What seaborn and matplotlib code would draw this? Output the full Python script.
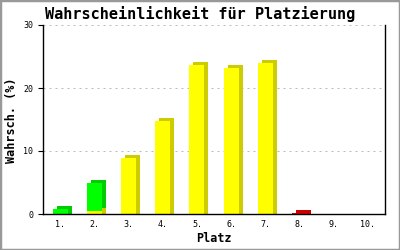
import matplotlib
matplotlib.use("Agg")
import matplotlib.pyplot as plt
import seaborn as sns
import numpy as np
from matplotlib.patches import Rectangle

places = ["1.", "2.", "3.", "4.", "5.", "6.", "7.", "8.", "9.", "10."]
yellow_vals = [0.0, 0.5, 8.9, 14.8, 23.7, 23.1, 23.9, 0.0, 0.0, 0.0]
green_vals = [0.85, 4.5, 0.0, 0.0, 0.0, 0.0, 0.0, 0.0, 0.0, 0.0]
red_vals = [0.0, 0.0, 0.0, 0.0, 0.0, 0.0, 0.0, 0.15, 0.0, 0.0]
yticks = [0, 10, 20, 30]

sns.set_theme(style="white")
plt.rcParams['font.family'] = ['DejaVu Sans Mono', 'DejaVu Sans']

fig = plt.figure(figsize=(4, 2.5), dpi=100)
ax = fig.add_axes([43/400, 1-214/250, 342/400, 189/250])

pos = np.arange(1, len(places) + 1)
W = 0.44
DX = 4/34.2   # depth offset in x (data units)
DY = 3/6.3    # depth offset in y (data units)

series = [
    (yellow_vals, "#ffff00", "#cccc00"),
    (green_vals, "#00ff00", "#00cc00"),
    (red_vals, "#dd0000", "#cc0000"),
]
bottom = np.zeros(len(places))
for vals, front, side in series:
    vals = np.array(vals, dtype=float)
    m = vals > 0
    if m.any():
        back_bottom = np.where(bottom > 0, bottom + DY, 0.0)
        back_top = bottom + vals + DY
        ax.bar(pos[m] + DX, (back_top - back_bottom)[m], width=W,
               bottom=back_bottom[m], color=side, linewidth=0, zorder=3)
        ax.bar(pos[m], vals[m], width=W, bottom=bottom[m],
               color=front, linewidth=0, zorder=4)
    bottom = bottom + vals

ax.set_xlim(0.5, 10.5)
ax.set_ylim(0, 30)
ax.set_yticks(yticks)
ax.set_yticklabels([str(t) for t in yticks])
ax.set_xticks(pos)
ax.set_xticklabels(places)
ax.tick_params(axis='y', direction='out', length=3.6, width=0.8, pad=3.5,
               labelsize=6, left=True, color='black', labelcolor='black')
ax.tick_params(axis='x', length=0, pad=4, labelsize=6, labelcolor='black')

for t in yticks[1:]:
    ax.axhline(t, color='#bbbbbb', lw=0.72, linestyle=(0, (2, 4)), zorder=1)

ax.spines['top'].set_visible(False)
for s in ['left', 'right', 'bottom']:
    ax.spines[s].set_visible(True)
    ax.spines[s].set_color('black')
    ax.spines[s].set_linewidth(1.0)
    ax.spines[s].set_zorder(5)
ax.grid(False)
ax.set_facecolor('white')

fig.text(200/400, 1-14/250, "Wahrscheinlichkeit für Platzierung",
         ha='center', va='center', fontsize=11, fontweight='bold', color='black')
fig.text(12/400, 1-120/250, "Wahrsch. (%)", rotation=90, ha='center',
         va='center', fontsize=8.5, fontweight='bold', color='black')
fig.text(214/400, 1-239/250, "Platz", ha='center', va='center',
         fontsize=8.5, fontweight='bold', color='black')

fig.patches.append(Rectangle((0, 0), 1, 1, transform=fig.transFigure,
                             fill=False, edgecolor='#999999', linewidth=2.5))

fig.savefig("out.png", dpi=100, facecolor='white')
